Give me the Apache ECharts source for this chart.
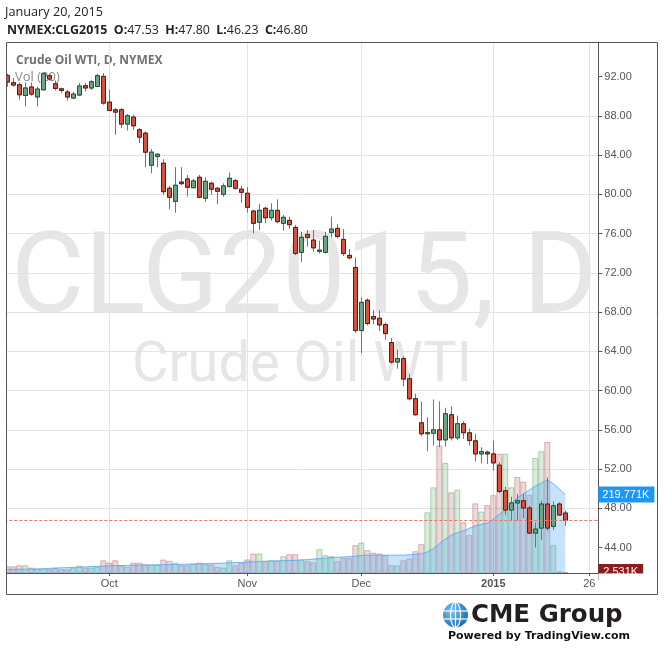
<!DOCTYPE html>
<html><head><meta charset="utf-8">
<script src="https://cdn.jsdelivr.net/npm/echarts@6/dist/echarts.min.js"></script>
<style>html,body{margin:0;padding:0;background:#fff}#c{width:664px;height:652px}</style>
</head><body><div id="c"></div>
<script>
const dates = [
'2014-09-08','2014-09-09','2014-09-10','2014-09-11','2014-09-12','2014-09-15','2014-09-16','2014-09-17','2014-09-18','2014-09-19',
'2014-09-22','2014-09-23','2014-09-24','2014-09-25','2014-09-26','2014-09-29','2014-09-30',
'2014-10-01','2014-10-02','2014-10-03','2014-10-06','2014-10-07','2014-10-08','2014-10-09','2014-10-10','2014-10-13','2014-10-14',
'2014-10-15','2014-10-16','2014-10-17','2014-10-20','2014-10-21','2014-10-22','2014-10-23','2014-10-24','2014-10-27','2014-10-28',
'2014-10-29','2014-10-30','2014-10-31',
'2014-11-03','2014-11-04','2014-11-05','2014-11-06','2014-11-07','2014-11-10','2014-11-11','2014-11-12','2014-11-13','2014-11-14',
'2014-11-17','2014-11-18','2014-11-19','2014-11-20','2014-11-21','2014-11-24','2014-11-25','2014-11-26','2014-11-28',
'2014-12-01','2014-12-02','2014-12-03','2014-12-04','2014-12-05','2014-12-08','2014-12-09','2014-12-10','2014-12-11','2014-12-12',
'2014-12-15','2014-12-16','2014-12-17','2014-12-18','2014-12-19','2014-12-22','2014-12-23','2014-12-24','2014-12-26','2014-12-29',
'2014-12-30','2014-12-31',
'2015-01-02','2015-01-05','2015-01-06','2015-01-07','2015-01-08','2015-01-09','2015-01-12','2015-01-13','2015-01-14','2015-01-15',
'2015-01-16','2015-01-19','2015-01-20',
'2015-01-21','2015-01-22','2015-01-23','2015-01-26','2015-01-27'
];
const tickDates = ['2014-10-01','2014-11-03','2014-12-01','2015-01-02','2015-01-26'];
const tickText = ['Oct','Nov','Dec','2015','26'];
const priceTicks = [44,48,52,56,60,64,68,72,76,80,84,88,92];

const open = [92.13,91.39,91.18,90.09,90.95,89.93,90.67,92.10,91.28,90.77,
90.44,89.82,90.13,91.08,90.85,91.00,92.03,89.41,88.63,88.63,
87.17,87.88,86.59,86.25,82.98,83.86,83.18,80.63,79.30,81.27,
81.58,80.69,81.75,79.61,81.14,80.63,80.02,80.80,81.41,80.53,
80.12,78.31,77.16,78.59,77.63,78.38,77.06,77.36,76.64,74.10,
75.93,75.35,74.20,74.10,76.13,76.54,75.42,73.79,72.56,66.13,
69.22,67.55,67.38,66.74,64.90,62.92,63.27,61.22,59.18,56.73,
55.61,55.67,56.01,54.99,57.55,55.20,56.63,55.71,54.89,53.56,
53.73,53.56,52.41,49.81,47.84,48.56,48.79,48.05,45.49,46.00,
48.45,46.17,48.45,47.53];
const high = [92.30,91.87,91.42,91.42,91.42,91.00,92.44,92.30,91.62,90.88,
90.67,90.44,91.36,91.36,91.69,92.30,92.37,90.67,88.80,88.80,
88.19,88.12,86.76,86.41,84.61,84.21,83.59,80.87,82.78,82.78,
81.99,81.58,81.99,81.75,81.31,80.75,81.14,82.23,81.58,80.87,
80.73,78.41,79.03,78.76,79.10,79.51,77.90,77.73,76.88,76.20,
76.37,76.37,75.28,76.20,77.73,76.98,76.47,74.43,73.58,69.50,
69.40,68.20,68.20,66.94,65.37,64.19,63.50,61.73,59.69,58.90,
57.30,59.11,58.90,58.26,58.39,57.47,56.89,56.12,55.61,54.24,
53.90,54.92,52.71,50.22,49.20,49.48,49.48,48.28,46.58,48.79,
51.17,48.72,48.62,47.80];
const low = [90.98,91.00,89.65,88.97,90.06,88.97,90.60,91.60,90.60,90.33,
89.58,89.72,90.06,90.50,90.67,90.95,89.14,88.46,86.08,86.76,
86.52,86.59,85.23,82.78,82.16,82.78,79.95,78.49,78.14,80.94,
79.77,80.63,79.61,79.27,79.95,79.03,79.77,80.73,80.46,79.16,
78.14,76.03,76.37,77.06,77.33,77.06,76.30,76.50,73.82,73.13,
74.67,74.16,73.99,73.99,75.63,75.52,73.72,73.38,65.89,63.84,
66.67,66.77,66.09,65.20,62.76,62.24,60.44,59.00,57.47,55.36,
53.83,54.41,54.24,54.31,54.92,54.99,55.09,54.41,52.78,52.61,
52.54,51.86,49.54,47.36,46.75,46.75,47.02,45.39,44.02,44.77,
45.73,45.80,47.26,46.23];
const close = [91.46,91.15,90.16,90.85,90.23,90.74,92.31,91.76,90.80,90.60,
89.93,90.23,91.05,90.85,91.49,92.10,89.31,88.56,88.39,87.17,
88.02,87.00,85.84,84.31,84.31,84.10,80.28,79.71,80.94,81.10,
80.73,81.38,79.71,81.34,80.53,80.33,80.87,81.65,80.63,80.22,
78.69,77.06,78.38,77.63,78.38,77.23,77.67,76.92,73.99,75.63,
75.63,74.56,74.33,75.73,76.47,75.73,73.99,73.54,66.13,69.00,
66.84,67.31,66.70,65.82,62.92,63.27,61.18,59.18,57.55,55.61,
55.74,56.01,54.99,57.65,55.20,56.63,55.71,54.92,53.56,53.80,
53.56,52.64,49.74,47.84,48.56,48.79,48.05,45.49,45.90,48.45,
46.00,48.28,47.33,46.80];

// volume in thousands of contracts
const volume = [18.8,18.8,21.6,21.6,15.0,12.2,12.2,10.3,14.1,10.3,
10.3,15.0,20.7,15.0,15.0,16.9,35.7,29.1,35.7,21.6,
16.9,29.1,29.1,24.4,23.5,23.5,37.6,33.8,29.1,21.6,
21.6,26.3,29.1,26.3,23.5,16.9,15.0,35.7,21.6,28.0,
38.0,54.5,54.5,33.0,35.7,34.0,47.0,52.6,52.6,37.6,
33.0,30.0,66.7,49.8,47.0,33.0,42.0,42.0,78.0,85.0,
64.0,57.0,54.5,49.8,21.6,21.6,35.7,40.4,61.0,80.8,
170,240,357,308,226,233,142,106,195,172,
190,218,334,334,240,269,256,219,322,341,
367,78,4.7,2.531];
const volUp = [0,0,0,1,0,1,1,0,0,0,
0,1,1,0,1,1,0,0,0,0,
1,0,0,0,1,1,0,0,1,0,
0,1,0,1,0,0,1,1,0,0,
0,0,1,0,1,0,1,0,0,1,
0,0,1,1,1,0,0,0,0,1,
0,0,0,0,0,1,0,0,0,0,
1,1,0,1,0,1,0,0,0,1,
0,0,0,1,1,0,0,0,1,1,
0,1,0,0];
// Vol (20) moving average, thousands
const volMA = [10.0,10.3,10.6,11.0,11.2,11.3,12.0,13.0,14.0,14.5,
15.0,15.5,16.5,17.0,18.0,18.5,19.5,20.0,20.5,21.0,
21.3,21.6,22.0,22.3,22.6,23.0,23.3,23.5,24.0,24.3,
24.6,25.0,25.4,26.0,26.5,27.0,27.5,28.5,29.0,30.0,
30.5,31.5,32.5,33.0,33.5,34.0,34.5,35.0,35.7,36.5,
37.5,39.0,40.0,41.5,43.0,44.0,45.0,46.0,47.0,49.0,
50.0,50.0,50.0,50.0,50.0,50.0,50.0,51.0,52.0,54.0,
59.0,68.5,82.0,95.0,106,113,118,125,132,136,
140,150,165,176,195,210,222,232,243,252,
261,250,235,219.771];

const last = open.length - 1;
const AX = '#555';
const FONT = 'Liberation Sans, Arial, sans-serif';
const isTick = (i, v) => tickDates.indexOf(v) >= 0;

const chart = echarts.init(document.getElementById('c'), null, {renderer: 'canvas'});

const wickData = open.map((o, i) => [o, close[i], low[i], high[i]]);
const bodyData = open.map((o, i) => [o, close[i], Math.min(o, close[i]), Math.max(o, close[i])]);
const volData = volume.map((v, i) => ({
  value: v,
  itemStyle: volUp[i]
    ? {color: 'rgba(90,165,90,0.22)', borderColor: 'rgba(70,150,70,0.4)'}
    : {color: 'rgba(175,90,90,0.22)', borderColor: 'rgba(165,70,70,0.38)'}
}));

const option = {
  animation: false,
  grid: [
    {left: 4.3, right: 65.7, top: 37.45, bottom: 65.05, outerBoundsMode: 'none', containLabel: false},
    {left: 4.3, right: 65.7, top: 42, bottom: 79, outerBoundsMode: 'none', containLabel: false}
  ],
  xAxis: [
    {gridIndex: 0, type: 'category', data: dates, boundaryGap: true, show: false},
    {gridIndex: 1, type: 'category', data: dates, boundaryGap: true,
      axisLine: {show: true, lineStyle: {color: AX, width: 1}},
      axisTick: {show: true, alignWithLabel: true, interval: isTick, length: 3, lineStyle: {color: AX}},
      axisLabel: {interval: isTick, margin: 5, color: AX, fontSize: 11, fontFamily: FONT,
        formatter: (v) => { const k = tickDates.indexOf(v); if (k < 0) return ''; return tickText[k] === '2015' ? '{b|2015}' : tickText[k]; },
        rich: {b: {fontWeight: 'bold', fontSize: 11, fontFamily: FONT, color: AX}}},
      splitLine: {show: true, alignWithLabel: true, interval: isTick, lineStyle: {color: '#e3e3e3', width: 1}}
    }
  ],
  yAxis: [
    {gridIndex: 0, type: 'value', position: 'right', min: 40, max: 96, interval: 4, scale: false,
      axisLine: {show: false},
      axisTick: {show: true, customValues: priceTicks, length: 4, lineStyle: {color: AX}},
      axisLabel: {customValues: priceTicks, margin: 6, color: AX, fontSize: 11, fontFamily: FONT,
        formatter: (v) => Number(v).toFixed(2)},
      splitLine: {show: true, showMinLine: false, showMaxLine: false, lineStyle: {color: '#e3e3e3', width: 1}}
    },
    {gridIndex: 1, type: 'value', position: 'right', min: 0, max: 1487,
      axisLine: {show: true, lineStyle: {color: AX, width: 1}},
      axisTick: {show: false}, axisLabel: {show: false}, splitLine: {show: false}
    }
  ],
  series: [
    {type: 'bar', name: 'Vol', xAxisIndex: 1, yAxisIndex: 1, data: volData,
      barCategoryGap: '0%', barGap: '0%', z: 1,
      itemStyle: {borderWidth: 1},
      markLine: {silent: true, symbol: 'none', animation: false,
        lineStyle: {color: 'rgba(0,0,0,0)', width: 0},
        label: {show: true, position: 'end', distance: 0, formatter: volume[last].toFixed(3) + 'K',
          color: '#fff', backgroundColor: '#8c1d1d', padding: [3, 5, 2, 5], fontSize: 11, fontFamily: FONT},
        data: [{yAxis: volume[last]}]}
    },
    {type: 'line', name: 'Vol MA', xAxisIndex: 1, yAxisIndex: 1, data: volMA, symbol: 'none', z: 2,
      lineStyle: {color: 'rgba(80,165,240,0.8)', width: 1},
      areaStyle: {color: 'rgba(90,175,245,0.5)'},
      markLine: {silent: true, symbol: 'none', animation: false,
        lineStyle: {color: 'rgba(0,0,0,0)', width: 0},
        label: {show: true, position: 'end', distance: 0, formatter: volMA[last].toFixed(3) + 'K',
          color: '#fff', backgroundColor: '#1e96f5', padding: [3, 5, 2, 4], fontSize: 11, fontFamily: FONT},
        data: [{yAxis: volMA[last]}]}
    },
    {type: 'candlestick', name: 'wick', xAxisIndex: 0, yAxisIndex: 0, data: wickData, barWidth: 4, z: 3,
      itemStyle: {color: '#737375', color0: '#737375', borderColor: '#737375', borderColor0: '#737375', borderWidth: 1}
    },
    {type: 'candlestick', name: 'CLG2015', xAxisIndex: 0, yAxisIndex: 0, data: bodyData, barWidth: 4, z: 4,
      itemStyle: {color: '#6ba583', color0: '#d9503f', borderColor: '#225437', borderColor0: '#5b1a13', borderWidth: 1},
      markLine: {silent: true, symbol: 'none', animation: false, label: {show: false},
        lineStyle: {color: '#e8776b', type: [3, 2], width: 1},
        data: [{yAxis: close[last]}]}
    }
  ],
  graphic: {elements: [
    {type: 'text', x: 304, y: 284, z: -10, silent: true,
      style: {text: 'CLG2015, D', fill: '#e6e6e6', font: '113px Roboto', align: 'center', verticalAlign: 'middle'}},
    {type: 'text', x: 302, y: 367, z: -10, silent: true,
      style: {text: 'Crude Oil WTI', fill: '#e6e6e6', font: '56px Roboto', align: 'center', verticalAlign: 'middle'}},
    {type: 'text', x: 16, y: 61, z: -5, silent: true,
      style: {text: 'Crude Oil WTI, D, NYMEX', fill: '#707070', font: 'bold 12px "Open Sans"', align: 'left', verticalAlign: 'middle'}},
    {type: 'text', x: 15, y: 77, z: -5, silent: true,
      style: {text: 'Vol (20)', fill: '#8a8a8a', font: '13px "Open Sans"', align: 'left', verticalAlign: 'middle'}},
    {type: 'text', x: 5, y: 12, silent: true,
      style: {text: 'January 20, 2015', fill: '#222', font: '12.7px "Open Sans"', align: 'left', verticalAlign: 'middle'}},
    {type: 'text', x: 7, y: 30, silent: true,
      style: {
        text: '{b|NYMEX:CLG2015}  {b|O:}{n|' + open[last].toFixed(2) + '}  {b|H:}{n|' + high[last].toFixed(2) +
              '}  {b|L:}{n|' + low[last].toFixed(2) + '}  {b|C:}{n|' + close[last].toFixed(2) + '}',
        fill: '#222', fontSize: 12.4, fontFamily: 'Open Sans', align: 'left', verticalAlign: 'middle',
        rich: {b: {fontWeight: 'bold', fontSize: 12.4, fontFamily: 'Open Sans', fill: '#222'},
               n: {fontSize: 12.4, fontFamily: 'Open Sans', fill: '#222'}}
      }},
    {type: 'rect', z: 99, silent: true, shape: {x: 0, y: 30, width: 6, height: 580}, style: {fill: '#fff'}},
    {type: 'rect', z: 99, silent: true, shape: {x: 598.5, y: 573.5, width: 58.5, height: 21}, style: {fill: '#fff'}},
    {type: 'rect', z: 100, silent: true, shape: {x: 6.5, y: 42.5, width: 651, height: 552}, style: {fill: null, stroke: '#555', lineWidth: 1}},
    // CME Group logo
    {type: 'circle', z: 5, silent: true, shape: {cx: 455.5, cy: 615, r: 12.5},
      style: {fill: new echarts.graphic.RadialGradient(0.35, 0.35, 0.8, [{offset: 0, color: '#7cc4f5'}, {offset: 1, color: '#0a5fae'}])}},
    {type: 'ellipse', z: 6, silent: true, shape: {cx: 455.5, cy: 615, rx: 5, ry: 12.5}, style: {fill: null, stroke: '#fff', lineWidth: 1.2}},
    {type: 'line', z: 6, silent: true, shape: {x1: 455.5, y1: 602.5, x2: 455.5, y2: 627.5}, style: {stroke: '#fff', lineWidth: 1.2}},
    {type: 'line', z: 6, silent: true, shape: {x1: 443.5, y1: 611, x2: 467.5, y2: 611}, style: {stroke: '#fff', lineWidth: 1.2}},
    {type: 'line', z: 6, silent: true, shape: {x1: 443.5, y1: 619, x2: 467.5, y2: 619}, style: {stroke: '#fff', lineWidth: 1.2}},
    {type: 'text', x: 471, y: 616, silent: true,
      style: {text: 'CME Group', fill: '#231f20', font: 'bold 24.5px "DejaVu Sans"', align: 'left', verticalAlign: 'middle'}},
    {type: 'text', x: 448, y: 636, silent: true,
      style: {text: 'Powered by TradingView.com', fill: '#111', font: 'bold 11px "DejaVu Sans"', align: 'left', verticalAlign: 'middle'}}
  ]}
};
chart.setOption(option);
</script>
</body></html>
